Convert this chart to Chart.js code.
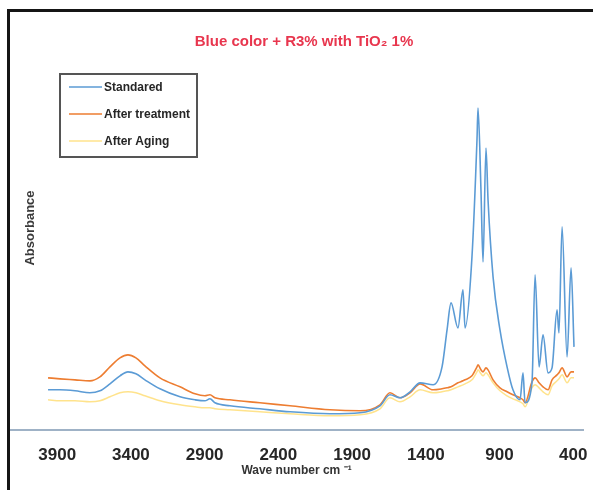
<!DOCTYPE html>
<html>
<head>
<meta charset="utf-8">
<script src="https://cdn.jsdelivr.net/npm/chart.js@4.4.1/dist/chart.umd.min.js"></script>
<style>
  html, body { margin: 0; padding: 0; background: #fff; }
  #wrap { position: relative; width: 593px; height: 490px; overflow: hidden; }
  #frame { position: absolute; left: 7px; top: 9px; right: -10px; bottom: -10px;
           border-left: 3px solid #151515; border-top: 3px solid #151515; pointer-events: none; }
</style>
</head>
<body>
<div id="wrap">
  <canvas id="c" width="593" height="490"></canvas>
  <div id="frame"></div>
</div>
<script>
// FTIR spectra: wave number (cm-1) and absorbance of the three samples
const chartTitle = 'Blue color + R3% with TiO\u2082 1%';
const xTitle = 'Wave number cm \u207B\u00B9';
const yTitle = 'Absorbance';
const seriesNames = ['Standared', 'After treatment', 'After Aging'];
const tickValues = [3900, 3400, 2900, 2400, 1900, 1400, 900, 400];

const wavenumbers = [3962, 3881, 3779, 3678, 3610, 3542, 3474, 3420, 3366, 3305,
  3203, 3067, 2965, 2898, 2864, 2830, 2728, 2525, 2321, 2050,
  1846, 1711, 1643, 1575, 1507, 1439, 1351, 1290, 1256, 1229,
  1182, 1148, 1134, 1087, 1053, 1046, 1026, 1012, 992, 978,
  944, 897, 849, 809, 761, 741, 727, 680, 659, 632,
  605, 571, 544, 510, 497, 476, 442, 415, 395];

const standared = [0.40, 0.40, 0.39, 0.37, 0.39, 0.46, 0.54, 0.58, 0.56, 0.50,
  0.41, 0.33, 0.30, 0.29, 0.31, 0.27, 0.24, 0.21, 0.18, 0.16,
  0.17, 0.24, 0.35, 0.32, 0.38, 0.47, 0.45, 0.63, 1.00, 1.27,
  1.02, 1.40, 1.02, 1.73, 2.90, 3.22, 2.40, 1.68, 2.82, 2.30,
  1.53, 1.00, 0.63, 0.40, 0.30, 0.57, 0.27, 0.47, 1.55, 0.63,
  0.95, 0.57, 0.62, 1.20, 0.97, 2.03, 0.73, 1.62, 0.83];

const afterTreatment = [0.52, 0.51, 0.50, 0.49, 0.53, 0.63, 0.72, 0.75, 0.72, 0.64,
  0.52, 0.43, 0.36, 0.34, 0.35, 0.32, 0.30, 0.27, 0.24, 0.20,
  0.19, 0.25, 0.37, 0.32, 0.37, 0.46, 0.40, 0.41, 0.42, 0.43,
  0.47, 0.49, 0.50, 0.54, 0.63, 0.65, 0.60, 0.58, 0.62, 0.60,
  0.50, 0.42, 0.38, 0.35, 0.32, 0.30, 0.27, 0.48, 0.52, 0.47,
  0.43, 0.40, 0.50, 0.55, 0.57, 0.62, 0.53, 0.58, 0.58];

const afterAging = [0.30, 0.29, 0.29, 0.28, 0.29, 0.33, 0.37, 0.38, 0.37, 0.34,
  0.29, 0.25, 0.23, 0.22, 0.22, 0.21, 0.20, 0.18, 0.16, 0.14,
  0.15, 0.21, 0.32, 0.28, 0.33, 0.40, 0.37, 0.38, 0.39, 0.40,
  0.43, 0.45, 0.46, 0.50, 0.58, 0.60, 0.56, 0.54, 0.57, 0.55,
  0.47, 0.39, 0.34, 0.31, 0.28, 0.26, 0.23, 0.42, 0.45, 0.42,
  0.38, 0.35, 0.44, 0.49, 0.51, 0.55, 0.47, 0.52, 0.52];

const colors = ['#5b9bd5', '#ed7d31', 'rgba(255, 192, 0, 0.45)'];
const widths = [1.6, 1.6, 1.5];

const toPoints = values => wavenumbers.map((w, i) => ({ x: w, y: values[i] }));

// Title, boxed legend and vertical axis caption drawn on the canvas
const decorations = {
  id: 'decorations',
  afterDraw(chart) {
    const ctx = chart.ctx;
    const area = chart.chartArea;
    ctx.save();
    ctx.textBaseline = 'middle';

    ctx.font = 'bold 15px "Liberation Sans", Arial, sans-serif';
    ctx.fillStyle = '#e8364e';
    ctx.textAlign = 'center';
    ctx.fillText(chartTitle, 304, 42);

    // legend box
    ctx.strokeStyle = '#555';
    ctx.lineWidth = 2;
    ctx.strokeRect(60, 74, 137, 83);
    ctx.font = 'bold 12px "Liberation Sans", Arial, sans-serif';
    ctx.textAlign = 'left';
    chart.data.datasets.forEach((ds, i) => {
      const y = 87 + i * 27;
      ctx.strokeStyle = ds.borderColor;
      ctx.lineWidth = 1.5;
      ctx.beginPath();
      ctx.moveTo(69, y);
      ctx.lineTo(102, y);
      ctx.stroke();
      ctx.fillStyle = '#262626';
      ctx.fillText(ds.label, 104, y + 1);
    });

    // y caption
    ctx.translate(area.left + 20, 228);
    ctx.rotate(-Math.PI / 2);
    ctx.textAlign = 'center';
    ctx.font = 'bold 13px "Liberation Sans", Arial, sans-serif';
    ctx.fillStyle = '#3a3a3a';
    ctx.fillText(yTitle, 0, 0);
    ctx.restore();
  }
};

new Chart(document.getElementById('c'), {
  type: 'line',
  data: {
    datasets: [
      { label: seriesNames[0], data: toPoints(standared) },
      { label: seriesNames[1], data: toPoints(afterTreatment) },
      { label: seriesNames[2], data: toPoints(afterAging) }
    ].map((ds, i) => Object.assign(ds, {
      borderColor: colors[i],
      borderWidth: widths[i],
      pointRadius: 0,
      fill: false,
      cubicInterpolationMode: 'monotone'
    }))
  },
  options: {
    responsive: false,
    animation: false,
    devicePixelRatio: 1,
    layout: { padding: { left: 10, right: 10, top: 65, bottom: 12 } },
    plugins: {
      legend: { display: false },
      title: { display: false },
      tooltip: { enabled: false }
    },
    scales: {
      x: {
        type: 'linear',
        reverse: true,
        min: 334,
        max: 4220,
        afterBuildTicks: scale => { scale.ticks = tickValues.map(v => ({ value: v })); },
        grid: { display: true, drawOnChartArea: false, drawTicks: false, color: 'transparent' },
        border: { display: true, color: '#9fb2c6', width: 2 },
        ticks: {
          autoSkip: false,
          maxRotation: 0,
          padding: 5,
          color: '#262626',
          font: { family: '"Liberation Sans", Arial, sans-serif', size: 17, weight: 'bold', lineHeight: '42px' },
          callback: v => String(v)
        },
        title: {
          display: true,
          text: xTitle,
          color: '#333',
          padding: { top: -18.2, bottom: 0 },
          font: { family: '"Liberation Sans", Arial, sans-serif', size: 12, weight: 'bold', lineHeight: 1.2 }
        }
      },
      y: {
        display: false,
        min: 0,
        max: 3.65
      }
    }
  },
  plugins: [decorations]
});
</script>
</body>
</html>
